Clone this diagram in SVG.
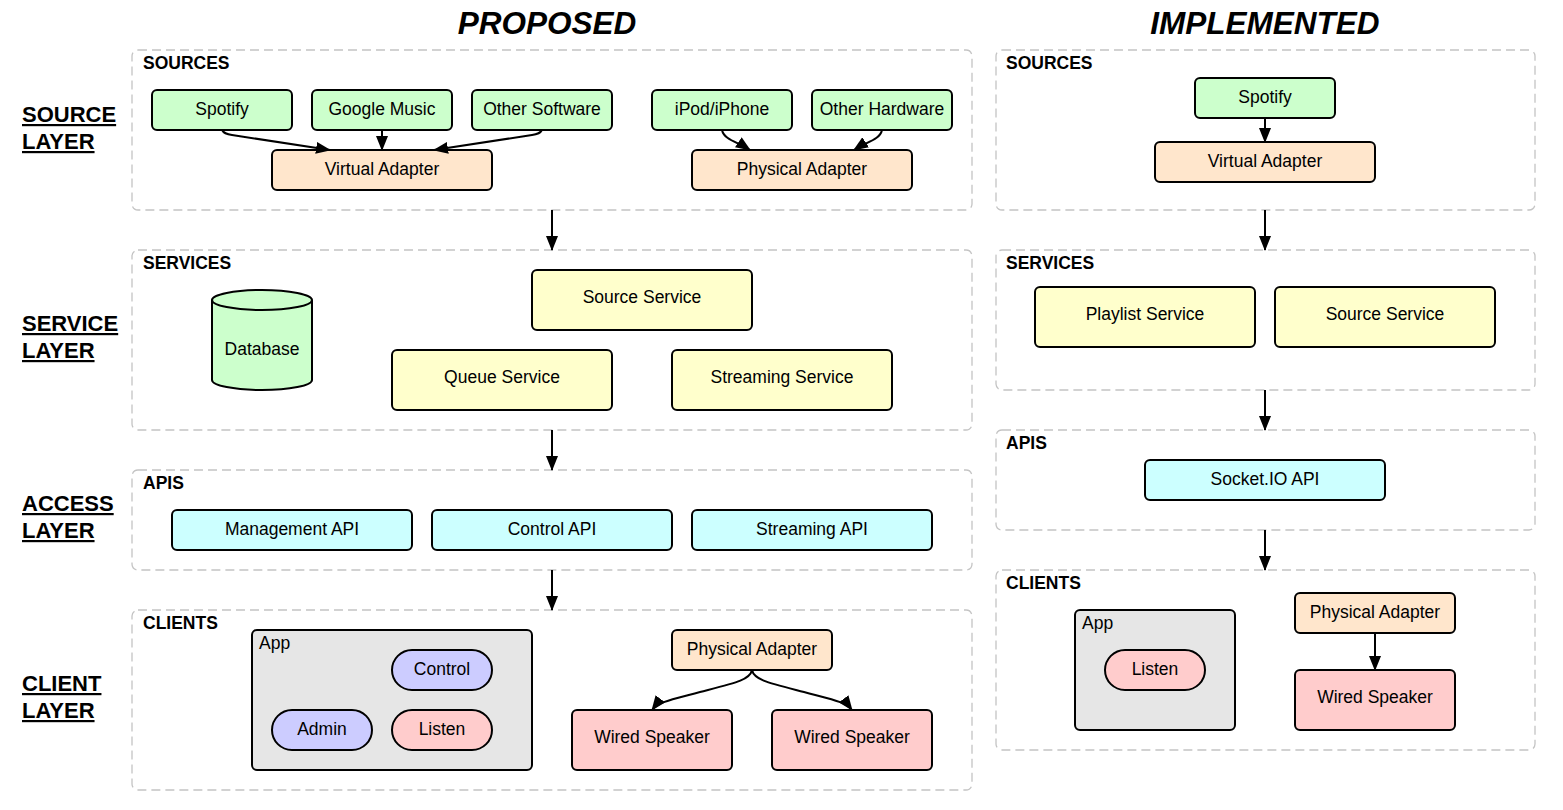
<svg xmlns="http://www.w3.org/2000/svg" width="1563" height="810" viewBox="0 0 1563 810">
<style>
  .panel{fill:#ffffff;stroke:#c4c4c4;stroke-width:1.3;stroke-dasharray:9,5}
  .plabel{font-family:"Liberation Sans",Arial,sans-serif;font-weight:bold;font-size:17.5px;fill:#000}
  .layer{font-family:"Liberation Sans",Arial,sans-serif;font-weight:bold;font-size:22px;fill:#000;text-decoration:underline}
  .head{font-family:"Liberation Sans",Arial,sans-serif;font-weight:bold;font-style:italic;font-size:31.5px;fill:#000;text-anchor:middle}
  .n{stroke:#000;stroke-width:2}
  .t{font-family:"Liberation Sans",Arial,sans-serif;font-size:17.5px;fill:#000;text-anchor:middle}
  .tl{font-family:"Liberation Sans",Arial,sans-serif;font-size:17.5px;fill:#000}
  .green{fill:#ccffcc}.peach{fill:#ffe6cc}.yellow{fill:#ffffcc}.cyan{fill:#ccffff}
  .pink{fill:#ffcccc}.lav{fill:#ccccff}.grey{fill:#e6e6e6}
  .c{fill:none;stroke:#000;stroke-width:2;marker-end:url(#ah)}
</style>
<defs>
  <marker id="ah" viewBox="0 0 15 12" refX="14" refY="6" markerWidth="15" markerHeight="12" markerUnits="userSpaceOnUse" orient="auto">
    <path d="M0,0 L15,6 L0,12 z" fill="#000"/>
  </marker>
</defs>
<rect width="1563" height="810" fill="#ffffff"/>

<text class="head" x="547" y="34">PROPOSED</text>
<text class="head" x="1265" y="34">IMPLEMENTED</text>

<g id="layer-labels">
  <text class="layer" x="22" y="122">SOURCE</text>
  <text class="layer" x="22" y="149">LAYER</text>
  <text class="layer" x="22" y="331">SERVICE</text>
  <text class="layer" x="22" y="358">LAYER</text>
  <text class="layer" x="22" y="511">ACCESS</text>
  <text class="layer" x="22" y="538">LAYER</text>
  <text class="layer" x="22" y="691">CLIENT</text>
  <text class="layer" x="22" y="718">LAYER</text>
</g>

<g id="panels">
  <rect class="panel" x="132" y="50" width="840" height="160" rx="6"/>
  <text class="plabel" x="143" y="69">SOURCES</text>
  <rect class="panel" x="132" y="250" width="840" height="180" rx="6"/>
  <text class="plabel" x="143" y="269">SERVICES</text>
  <rect class="panel" x="132" y="470" width="840" height="100" rx="6"/>
  <text class="plabel" x="143" y="489">APIS</text>
  <rect class="panel" x="132" y="610" width="840" height="180" rx="6"/>
  <text class="plabel" x="143" y="629">CLIENTS</text>

  <rect class="panel" x="996" y="50" width="539" height="160" rx="6"/>
  <text class="plabel" x="1006" y="69">SOURCES</text>
  <rect class="panel" x="996" y="250" width="539" height="140" rx="6"/>
  <text class="plabel" x="1006" y="269">SERVICES</text>
  <rect class="panel" x="996" y="430" width="539" height="100" rx="6"/>
  <text class="plabel" x="1006" y="449">APIS</text>
  <rect class="panel" x="996" y="570" width="539" height="180" rx="6"/>
  <text class="plabel" x="1006" y="589">CLIENTS</text>
</g>

<!-- Proposed sources -->
<g id="p-spotify"><rect class="n green" x="152" y="90" width="140" height="40" rx="5"/><text class="t" x="222" y="114.5">Spotify</text></g>
<g id="p-google"><rect class="n green" x="312" y="90" width="140" height="40" rx="5"/><text class="t" x="382" y="114.5">Google Music</text></g>
<g id="p-othersw"><rect class="n green" x="472" y="90" width="140" height="40" rx="5"/><text class="t" x="542" y="114.5">Other Software</text></g>
<g id="p-ipod"><rect class="n green" x="652" y="90" width="140" height="40" rx="5"/><text class="t" x="722" y="114.5">iPod/iPhone</text></g>
<g id="p-otherhw"><rect class="n green" x="812" y="90" width="140" height="40" rx="5"/><text class="t" x="882" y="114.5">Other Hardware</text></g>
<g id="p-virtual"><rect class="n peach" x="272" y="150" width="220" height="40" rx="5"/><text class="t" x="382" y="174.5">Virtual Adapter</text></g>
<g id="p-physical"><rect class="n peach" x="692" y="150" width="220" height="40" rx="5"/><text class="t" x="802" y="174.5">Physical Adapter</text></g>

<!-- Proposed services -->
<g id="p-database">
  <path class="n green" d="M212,300 L212,380 A50,10 0 0 0 312,380 L312,300 A50,10 0 0 0 212,300 Z"/>
  <path d="M212,300 A50,10 0 0 0 312,300" fill="none" stroke="#000" stroke-width="2"/>
  <text class="t" x="262" y="354.5">Database</text>
</g>
<g id="p-source-service"><rect class="n yellow" x="532" y="270" width="220" height="60" rx="5"/><text class="t" x="642" y="302.5">Source Service</text></g>
<g id="p-queue-service"><rect class="n yellow" x="392" y="350" width="220" height="60" rx="5"/><text class="t" x="502" y="382.5">Queue Service</text></g>
<g id="p-streaming-service"><rect class="n yellow" x="672" y="350" width="220" height="60" rx="5"/><text class="t" x="782" y="382.5">Streaming Service</text></g>

<!-- Proposed APIs -->
<g id="p-mgmt-api"><rect class="n cyan" x="172" y="510" width="240" height="40" rx="5"/><text class="t" x="292" y="534.5">Management API</text></g>
<g id="p-control-api"><rect class="n cyan" x="432" y="510" width="240" height="40" rx="5"/><text class="t" x="552" y="534.5">Control API</text></g>
<g id="p-streaming-api"><rect class="n cyan" x="692" y="510" width="240" height="40" rx="5"/><text class="t" x="812" y="534.5">Streaming API</text></g>

<!-- Proposed clients -->
<g id="p-app">
  <rect class="n grey" x="252" y="630" width="280" height="140" rx="5"/>
  <text class="tl" x="259" y="649">App</text>
</g>
<g id="p-control"><rect class="n lav" x="392" y="650" width="100" height="40" rx="20"/><text class="t" x="442" y="674.5">Control</text></g>
<g id="p-admin"><rect class="n lav" x="272" y="710" width="100" height="40" rx="20"/><text class="t" x="322" y="734.5">Admin</text></g>
<g id="p-listen"><rect class="n pink" x="392" y="710" width="100" height="40" rx="20"/><text class="t" x="442" y="734.5">Listen</text></g>
<g id="p-client-physical"><rect class="n peach" x="672" y="630" width="160" height="40" rx="5"/><text class="t" x="752" y="654.5">Physical Adapter</text></g>
<g id="p-speaker1"><rect class="n pink" x="572" y="710" width="160" height="60" rx="5"/><text class="t" x="652" y="742.5">Wired Speaker</text></g>
<g id="p-speaker2"><rect class="n pink" x="772" y="710" width="160" height="60" rx="5"/><text class="t" x="852" y="742.5">Wired Speaker</text></g>

<!-- Implemented -->
<g id="i-spotify"><rect class="n green" x="1195" y="78" width="140" height="40" rx="5"/><text class="t" x="1265" y="102.5">Spotify</text></g>
<g id="i-virtual"><rect class="n peach" x="1155" y="142" width="220" height="40" rx="5"/><text class="t" x="1265" y="166.5">Virtual Adapter</text></g>
<g id="i-playlist-service"><rect class="n yellow" x="1035" y="287" width="220" height="60" rx="5"/><text class="t" x="1145" y="319.5">Playlist Service</text></g>
<g id="i-source-service"><rect class="n yellow" x="1275" y="287" width="220" height="60" rx="5"/><text class="t" x="1385" y="319.5">Source Service</text></g>
<g id="i-socketio"><rect class="n cyan" x="1145" y="460" width="240" height="40" rx="5"/><text class="t" x="1265" y="484.5">Socket.IO API</text></g>
<g id="i-app">
  <rect class="n grey" x="1075" y="610" width="160" height="120" rx="5"/>
  <text class="tl" x="1082" y="629">App</text>
</g>
<g id="i-listen"><rect class="n pink" x="1105" y="650" width="100" height="40" rx="20"/><text class="t" x="1155" y="674.5">Listen</text></g>
<g id="i-physical"><rect class="n peach" x="1295" y="593" width="160" height="40" rx="5"/><text class="t" x="1375" y="617.5">Physical Adapter</text></g>
<g id="i-speaker"><rect class="n pink" x="1295" y="670" width="160" height="60" rx="5"/><text class="t" x="1375" y="702.5">Wired Speaker</text></g>

<g id="connectors">
  <path class="c" d="M222,130 Q224,134 232,135 L330,150"/>
  <path class="c" d="M382,130 L382,150"/>
  <path class="c" d="M542,130 Q540,134 532,135 L434,150"/>
  <path class="c" d="M722,130 C724,140 738,142 750,150"/>
  <path class="c" d="M882,130 C880,140 866,142 854,150"/>
  <path class="c" d="M752,670 C750,680 735,683 700,692 C670,700 658,702 652,710"/>
  <path class="c" d="M752,670 C754,680 769,683 804,692 C834,700 846,702 852,710"/>
  <path class="c" d="M552,210 L552,250"/>
  <path class="c" d="M552,430 L552,470"/>
  <path class="c" d="M552,570 L552,610"/>
  <path class="c" d="M1265,118 L1265,142"/>
  <path class="c" d="M1265,210 L1265,250"/>
  <path class="c" d="M1265,390 L1265,430"/>
  <path class="c" d="M1265,530 L1265,570"/>
  <path class="c" d="M1375,633 L1375,670"/>
</g>
</svg>
